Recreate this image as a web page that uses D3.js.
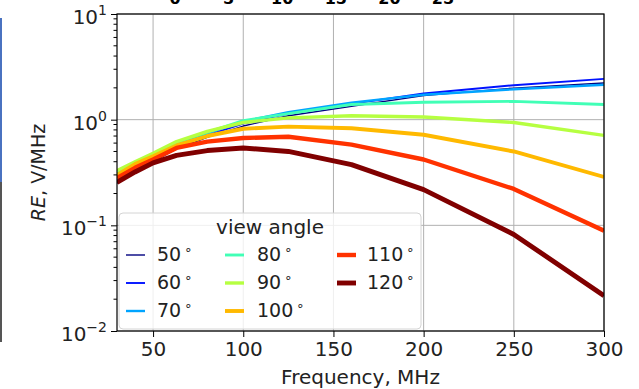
<!DOCTYPE html>
<html>
<head>
<meta charset="utf-8">
<script src="https://cdn.jsdelivr.net/npm/d3@7"></script>
<style>
  body { margin: 0; background: #fff; }
  svg { font-family: "DejaVu Sans", sans-serif; }
</style>
</head>
<body>
<div id="chart"></div>
<script>
// frequencies (MHz) and RE values (V/MHz) for each view angle
var freqs = [30, 40, 50, 63, 80, 100, 125, 160, 200, 250, 300];
var angles = [50, 60, 70, 80, 90, 100, 110, 120];
var re50  = [0.25, 0.33, 0.40, 0.53, 0.68, 0.87, 1.09, 1.34, 1.69, 1.99, 2.22];
var re60  = [0.26, 0.34, 0.42, 0.55, 0.71, 0.92, 1.14, 1.41, 1.77, 2.12, 2.43];
var re70  = [0.28, 0.36, 0.44, 0.58, 0.74, 0.96, 1.18, 1.45, 1.72, 1.94, 2.14];
var re80  = [0.31, 0.39, 0.47, 0.61, 0.76, 0.98, 1.14, 1.39, 1.46, 1.49, 1.39];
var re90  = [0.33, 0.40, 0.48, 0.62, 0.775, 0.94, 1.04, 1.09, 1.06, 0.94, 0.71];
var re100 = [0.30, 0.38, 0.45, 0.57, 0.70, 0.82, 0.86, 0.83, 0.72, 0.50, 0.287];
var re110 = [0.28, 0.35, 0.42, 0.54, 0.62, 0.67, 0.69, 0.58, 0.42, 0.221, 0.089];
var re120 = [0.255, 0.32, 0.39, 0.46, 0.51, 0.54, 0.50, 0.375, 0.218, 0.082, 0.0216];
var series = [re50, re60, re70, re80, re90, re100, re110, re120];
var colors = ["#000080", "#0012ff", "#00a4ff", "#41ffb6", "#b6ff41", "#ffb900", "#ff3200", "#800000"];
var xTicks = [50, 100, 150, 200, 250, 300];
var yTicks = [1e-2, 1e-1, 1e0, 1e1];
var yExps = ["\u22122", "\u22121", "0", "1"];
// cut-off tick labels of the figure above
var topTicks = [0, 5, 10, 15, 20, 25];

var margin = {top: 14, left: 117},
    width = 487,
    height = 317;

var svg = d3.select("#chart").append("svg")
    .attr("width", 639)
    .attr("height", 389);

// leftovers of the screenshot
svg.selectAll(".top-tick")
    .data(topTicks)
    .enter()
    .append("text")
    .attr("x", d3.scaleLinear().domain([0, 25]).range([175, 443]))
    .attr("y", 4)
    .attr("text-anchor", "middle")
    .style("font-size", "16px")
    .style("font-weight", "bold")
    .text(function(d) { return d; });
svg.append("line").attr("x1", 1).attr("x2", 1).attr("y1", 18).attr("y2", 182)
    .style("stroke", "#4a72c0").style("stroke-width", 2);
svg.append("line").attr("x1", 1).attr("x2", 1).attr("y1", 182).attr("y2", 342)
    .style("stroke", "#555").style("stroke-width", 2);

var g = svg.append("g")
    .attr("transform", "translate(" + margin.left + "," + margin.top + ")");

var x = d3.scaleLinear().domain([30, 300]).range([0, width]);
var y = d3.scaleLog().domain([1e-2, 1e1]).range([height, 0]);

// grid
g.selectAll(".gx")
    .data(xTicks)
    .enter()
    .append("line")
    .attr("x1", x).attr("x2", x)
    .attr("y1", 0).attr("y2", height)
    .style("stroke", "#b0b0b0").style("stroke-width", 1);
g.selectAll(".gy")
    .data(yTicks)
    .enter()
    .append("line")
    .attr("x1", 0).attr("x2", width)
    .attr("y1", y).attr("y2", y)
    .style("stroke", "#b0b0b0").style("stroke-width", 1);

g.append("clipPath").attr("id", "clip")
    .append("rect").attr("width", width).attr("height", height);

var line = d3.line()
    .x(function(d, i) { return x(freqs[i]); })
    .y(function(d) { return y(d); });

// the curves
g.append("g").attr("clip-path", "url(#clip)")
    .selectAll("path")
    .data(series)
    .enter()
    .append("path")
    .attr("d", line)
    .style("fill", "none")
    .style("stroke", function(d, i) { return colors[i]; })
    .style("stroke-width", function(d, i) { return 1.4 + 0.5 * i; })
    .style("stroke-linejoin", "round");

// X axis
var xAxis = g.append("g")
    .attr("transform", "translate(0," + height + ")")
    .call(d3.axisBottom(x).tickValues(xTicks).tickSize(6).tickPadding(5));
xAxis.selectAll("text").style("font-size", "20px").style("fill", "#222")
    .attr("font-family", "DejaVu Sans");

// Y axis, minor ticks first
var minor = [];
yTicks.slice(0, 3).forEach(function(t) {
  for (var k = 2; k < 10; k++) minor.push(t * k);
});
g.selectAll(".minor")
    .data(minor)
    .enter()
    .append("line")
    .attr("x1", -3.5).attr("x2", 0)
    .attr("y1", y).attr("y2", y)
    .style("stroke", "#000").style("stroke-width", 1);
var yAxis = g.append("g")
    .call(d3.axisLeft(y).tickValues(yTicks).tickSize(6).tickFormat(""));
yAxis.selectAll(".tick").each(function(d, i) {
  var t = d3.select(this).append("text")
      .attr("x", -10)
      .attr("dy", 9.5)
      .attr("text-anchor", "end")
      .style("font-size", "20px")
      .style("fill", "#222")
      .attr("font-family", "DejaVu Sans");
  t.append("tspan").text("10");
  t.append("tspan").attr("dy", -9).style("font-size", "14px").text(yExps[i]);
});
g.selectAll(".domain").remove();

// frame
g.append("rect")
    .attr("width", width).attr("height", height)
    .style("fill", "none").style("stroke", "#000").style("stroke-width", 1.2);

// axis labels
svg.append("text")
    .attr("x", margin.left + width / 2)
    .attr("y", 384)
    .attr("text-anchor", "middle")
    .style("font-size", "20px")
    .style("fill", "#222")
    .text("Frequency, MHz");
var yl = svg.append("text")
    .attr("transform", "translate(45," + (margin.top + height / 2) + ") rotate(-90)")
    .attr("text-anchor", "middle")
    .style("font-size", "19px")
    .style("fill", "#222");
yl.append("tspan").style("font-style", "italic").text("RE");
yl.append("tspan").text(", V/MHz");

// legend
var lg = svg.append("g");
lg.append("rect")
    .attr("x", 119).attr("y", 213).attr("width", 302).attr("height", 116)
    .attr("rx", 4)
    .style("fill", "#fff").style("fill-opacity", 0.8)
    .style("stroke", "#d4d4d4").style("stroke-width", 1);
lg.append("text")
    .attr("x", 270).attr("y", 234)
    .attr("text-anchor", "middle")
    .style("font-size", "20px")
    .style("fill", "#222")
    .text("view angle");
var colX = [126, 225, 337],
    textX = [157, 257, 367];
var item = lg.selectAll(".item")
    .data(angles)
    .enter()
    .append("g")
    .attr("transform", function(d, i) {
      return "translate(" + colX[Math.floor(i / 3)] + "," + (261 + 28 * (i % 3)) + ")";
    });
item.append("line")
    .attr("x1", 0).attr("x2", 19)
    .attr("y1", -6).attr("y2", -6)
    .style("stroke", function(d, i) { return colors[i]; })
    .style("stroke-width", function(d, i) { return 1.4 + 0.5 * i; });
var lt = item.append("text")
    .attr("x", function(d, i) { return textX[Math.floor(i / 3)] - colX[Math.floor(i / 3)]; })
    .style("font-size", "19px")
    .style("fill", "#222");
lt.append("tspan").text(function(d) { return d; });
lt.append("tspan").attr("dx", 3).attr("dy", -7).style("font-size", "13px").text("\u2218");
</script>
</body>
</html>
